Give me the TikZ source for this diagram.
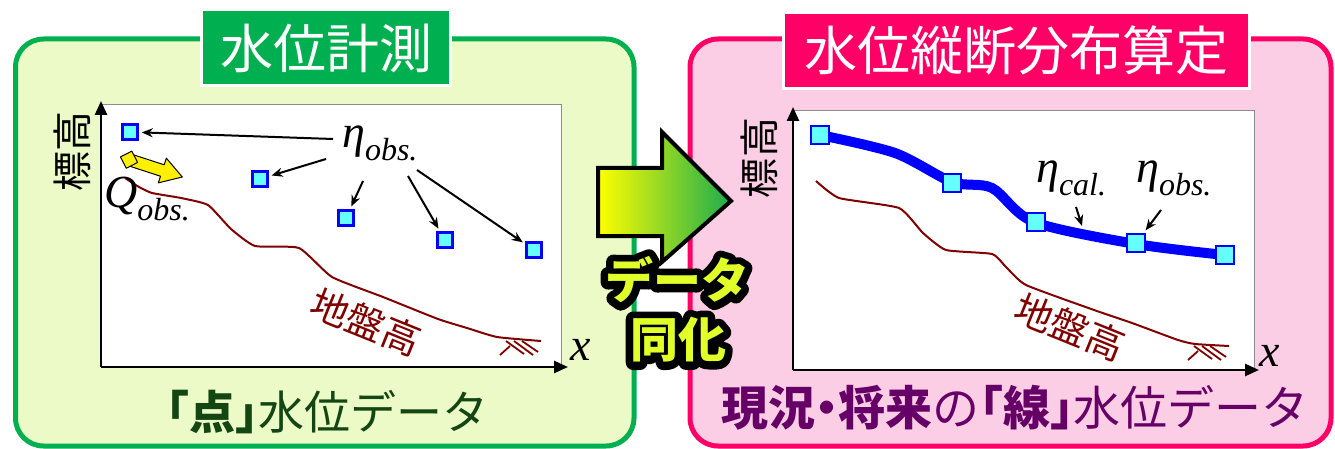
\RequirePackage{fix-cm}
\documentclass[tikz,border=0pt]{standalone}
\usepackage{fontspec}
\newfontfamily\jp{Noto Sans CJK JP}
\newfontfamily\jph{Noto Sans CJK JP}[RawFeature=+halt]
\newfontfamily\tms{Liberation Serif}
\usetikzlibrary{arrows.meta,calc}
\definecolor{gfill}{RGB}{235,250,198}
\definecolor{gline}{RGB}{0,176,80}
\definecolor{pfill}{RGB}{252,206,230}
\definecolor{pline}{RGB}{255,0,102}
\definecolor{ground}{RGB}{128,0,0}
\definecolor{dgreen}{RGB}{20,70,20}
\definecolor{purp}{RGB}{102,0,102}
\definecolor{mkfill}{RGB}{102,255,255}
\definecolor{ytext}{RGB}{225,255,40}
\definecolor{agreen}{RGB}{28,172,78}
\definecolor{qyel}{RGB}{255,240,0}
\tikzset{
 panel/.style={rounded corners=28pt, line width=5pt},
 titlebox/.style={draw=white, line width=3pt, inner sep=0pt, text=white, font=\jp\fontsize{53}{53}\selectfont},
 plotbg/.style={fill=white, draw=black!45, line width=0.8pt},
 axis/.style={line width=2.5pt, -{Triangle[length=14pt,width=12pt]}},
 mk/.style={rectangle, fill=mkfill, draw=blue, line width=2.5pt, inner sep=0pt, minimum size=15pt},
 mkb/.style={mk, minimum size=18pt},
 lbl/.style={inner sep=0pt, font=\tms\itshape\fontsize{46}{46}\selectfont},
 ptr/.style={line width=2pt, -{Stealth[length=11pt,width=9pt]}, shorten >=3pt},
 gnd/.style={draw=ground, line width=2pt},
 hatch/.style={draw=ground, line width=1.8pt},
 gtext/.style={text=ground, inner sep=0pt, font=\jp\fontsize{38}{38}\selectfont, rotate=-22},
 ylab/.style={inner sep=0pt, rotate=90, font=\jp\fontsize{40}{40}\selectfont},
 ytxt/.style={inner sep=0pt, font=\jp\bfseries\fontsize{48}{48}\selectfont},
 yarr/.style={fill=qyel, draw=black, line width=1pt, line join=round},
 btm/.style={inner sep=0pt, font=\jph\fontsize{#1}{#1}\selectfont},
}
\newcommand{\sub}[1]{\raisebox{-0.28em}{\fontsize{32}{32}\selectfont #1}}
\newcommand{\outl}[1]{\special{pdf:literal direct 2 Tr 15 w 1 j 1 J}#1\special{pdf:literal direct 0 Tr 1 w}}
\begin{document}
\begin{tikzpicture}[x=1pt,y=-1pt]
\useasboundingbox (0,0) rectangle (1335,449);
\clip (0,0) rectangle (1335,449);
% ---------------- panels
\draw[panel, fill=gfill, draw=gline] (15.5,39) rectangle (634,446);
\draw[panel, fill=pfill, draw=pline] (690,39) rectangle (1331,446);
\node[titlebox, fill=gline, minimum width=249pt, minimum height=76pt] (tL) at (326,48) {水位計測};
\node[titlebox, fill=pline, minimum width=466pt, minimum height=76pt] (tR) at (1016.5,50.5) {水位縦断分布算定};
% ---------------- left plot
\fill[plotbg] (101,104) rectangle (561,367);
\coordinate (oL) at (101,367);
\coordinate (yL) at (101,101);
\coordinate (xL) at (568,367);
\draw[axis] (oL) -- (yL);
\draw[axis] (oL) -- (xL);
\node[ylab] (hL) at (72,152) {標高};
\node[lbl] (xlL) at (581,350) {x};
\draw[gnd] plot[smooth, tension=0.3] coordinates {(125,178) (139,187) (152,193) (181,198) (208,205) (231,229) (255,246) (299,248) (332,277) (383,297) (438,319) (467,328) (497,337) (541,341)};
\draw[hatch] (506,341) -- (524,354);
\draw[hatch] (514,341) -- (533,355);
\draw[hatch] (522,341) -- (538,352);
\draw[hatch] (500,355) -- (510,346);
\node[gtext] (gL) at (366,322) {地盤高};
\node[mk] (mL1) at (130,132) {};
\node[mk] (mL2) at (260,179) {};
\node[mk] (mL3) at (346,218) {};
\node[mk] (mL4) at (445,240) {};
\node[mk] (mL5) at (534,250) {};
\node[lbl, anchor=west] (eL) at (342,143) {η\sub{obs.}};
\coordinate (a1) at (333,139);
\coordinate (a2) at (326,159);
\coordinate (a3) at (363,181);
\coordinate (a4) at (408,176);
\coordinate (a5) at (417,170);
\draw[ptr] (a1) -- (mL1);
\draw[ptr] (a2) -- (mL2);
\draw[ptr] (a3) -- (mL3);
\draw[ptr] (a4) -- (mL4);
\draw[ptr] (a5) -- (mL5);
\node[lbl, anchor=west] (qL) at (104,199) {Q\sub{obs.}};
\begin{scope}[shift={(130,160)}, rotate=-18]
\draw[yarr] (0,-6) -- (34,-6) -- (34,-13) -- (55,0) -- (34,13) -- (34,6) -- (0,6) -- cycle;
\draw[yarr] (-10,0) -- (-1,-9) -- (8,0) -- (-1,9) -- cycle;
\end{scope}
\node[btm=46, text=dgreen] (bL) at (327,412) {{\bfseries 「点」}水位データ};
% ---------------- right plot
\fill[plotbg] (793,110) rectangle (1254,370);
\coordinate (oR) at (793,370);
\coordinate (yR) at (793,107);
\coordinate (xR) at (1259,370);
\draw[axis] (oR) -- (yR);
\draw[axis] (oR) -- (xR);
\node[ylab] (hR) at (759,158) {標高};
\node[lbl] (xlR) at (1270,356) {x};
\draw[gnd] plot[smooth, tension=0.3] coordinates {(816,181) (839,198) (899,208) (923,233) (946,250) (992,254) (1006,267) (1026,285) (1094,310) (1132,323) (1178,340) (1195,344) (1229,346)};
\begin{scope}[shift={(688,5)}]
\draw[hatch] (506,341) -- (524,354);
\draw[hatch] (514,341) -- (533,355);
\draw[hatch] (522,341) -- (538,352);
\draw[hatch] (500,355) -- (510,346);
\end{scope}
\node[gtext] (gR) at (1070,327) {地盤高};
\draw[blue, line width=10pt, line join=round] plot[smooth, tension=0.5] coordinates {(820,135) (895,153) (952,182) (992,188) (1034,222) (1136,244) (1225,255)};
\node[mkb] (mR1) at (820,135) {};
\node[mkb] (mR2) at (952,183) {};
\node[mkb] (mR3) at (1036,222) {};
\node[mkb] (mR4) at (1136,243) {};
\node[mkb] (mR5) at (1225,255) {};
\node[lbl, anchor=west] (eC) at (1036,178) {η\sub{cal.}};
\node[lbl, anchor=west] (eO) at (1136,178) {η\sub{obs.}};
\coordinate (c1) at (1076,207);
\coordinate (c2) at (1082,226);
\coordinate (c3) at (1161,210);
\draw[ptr, shorten >=0pt] (c1) -- (c2);
\draw[ptr] (c3) -- (mR4);
\node[btm=47, text=purp] (bR) at (1015,408) {{\bfseries 現況・将来}の{\bfseries 「線」}水位データ};
% ---------------- central arrow
\path[draw=black, line width=4pt, line join=miter, left color=yellow, right color=agreen]
 (598,168) -- (662,168) -- (662,132) -- (731,201) -- (662,262) -- (662,236) -- (598,236) -- cycle;
\coordinate (d) at (677,280);
\coordinate (f) at (678,340);
\node[ytxt, text=black] (dk) at (d) {\outl{データ}};
\node[ytxt, text=black] (fk) at (f) {\outl{同化}};
\node[ytxt, text=ytext] (dt) at (d) {データ};
\node[ytxt, text=ytext] (ft) at (f) {同化};
\end{tikzpicture}
\end{document}
